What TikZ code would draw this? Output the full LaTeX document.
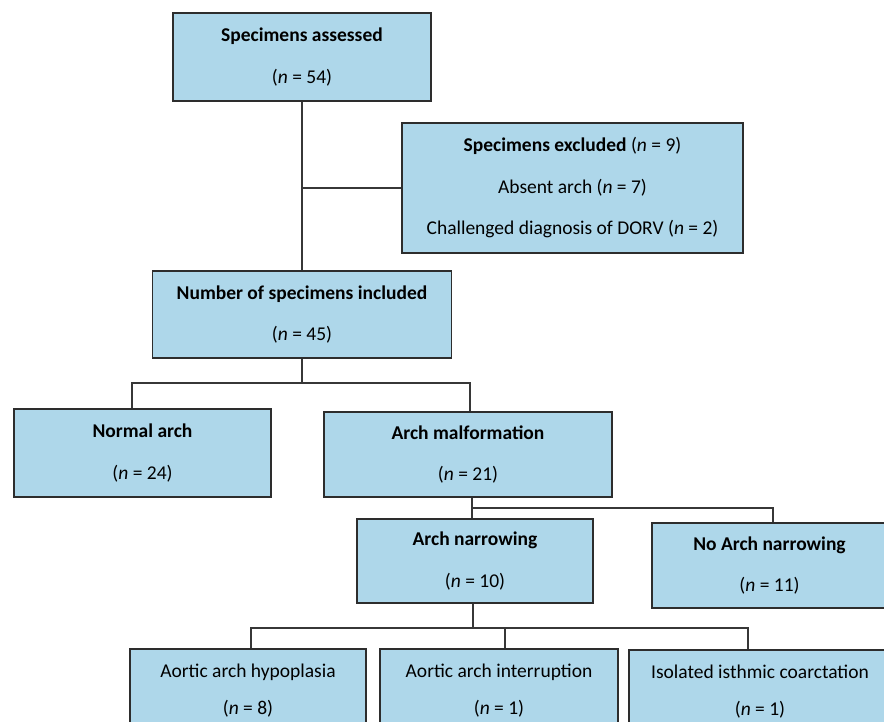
\documentclass[tikz,border=0pt]{standalone}
\usepackage{fontspec}
\setmainfont{Carlito}
\definecolor{boxfill}{RGB}{174,215,234}
\definecolor{boxline}{RGB}{45,45,45}
\definecolor{conn}{RGB}{55,55,55}
\begin{document}
\begin{tikzpicture}[x=1pt,y=-1pt,
  box/.style={draw=boxline, fill=boxfill, line width=1.4pt, inner sep=0pt, align=center,
    font=\fontsize{19.5}{41.5}\selectfont, anchor=center},
  lowbox/.style={box, font=\fontsize{19.5}{37}\selectfont},
  link/.style={draw=conn, line width=1.3pt}]
\useasboundingbox (0,0) rectangle (884,722);
\clip (0,0) rectangle (884,722);
\node[box, minimum width=258pt, minimum height=88pt] (a) at (302,57)
  {\textbf{Specimens assessed}\\(\textit{n} = 54)};
\node[box, minimum width=341pt, minimum height=130pt] (b) at (572.5,188)
  {\textbf{Specimens excluded} (\textit{n} = 9)\\Absent arch (\textit{n} = 7)\\Challenged diagnosis of DORV (\textit{n} = 2)};
\node[box, minimum width=299pt, minimum height=87pt] (c) at (302,314.5)
  {\textbf{Number of specimens included}\\(\textit{n} = 45)};
\node[box, minimum width=257pt, minimum height=88pt] (d) at (142.5,453)
  {\textbf{Normal arch}\\(\textit{n} = 24)};
\node[box, minimum width=288pt, minimum height=85pt] (e) at (468,454.5)
  {\textbf{Arch malformation}\\(\textit{n} = 21)};
\node[box, minimum width=236pt, minimum height=84pt] (f) at (475,561)
  {\textbf{Arch narrowing}\\(\textit{n} = 10)};
\node[box, minimum width=235pt, minimum height=85pt] (g) at (769.5,565.5)
  {\textbf{No Arch narrowing}\\(\textit{n} = 11)};
\node[lowbox, minimum width=236pt, minimum height=84pt] (h) at (248,691)
  {Aortic arch hypoplasia\\(\textit{n} = 8)};
\node[lowbox, minimum width=238pt, minimum height=84pt] (i) at (499,691)
  {Aortic arch interruption\\(\textit{n} = 1)};
\node[lowbox, minimum width=262pt, minimum height=84pt] (j) at (760,692)
  {Isolated isthmic coarctation\\(\textit{n} = 1)};
\coordinate (y383) at (0,383);
\coordinate (y508) at (0,508);
\coordinate (y628) at (0,628);
% top
\draw[link] (a.south) -- (a.south |- c.north);
\draw[link] (a.south |- b.west) -- (b.west);
% included -> normal / malformation
\draw[link] (c.south) -- (c.south |- y383);
\draw[link] ([xshift=-10.5pt]d.north) |- ([xshift=2pt]e.north |- y383) -- ([xshift=2pt]e.north);
% malformation -> narrowing / no narrowing
\draw[link] ([xshift=4pt]e.south) -- ([xshift=4pt]e.south |- f.north);
\draw[link] ([xshift=4pt]e.south |- y508) -| ([xshift=3.5pt]g.north);
% narrowing -> three
\draw[link] ([xshift=-2pt]f.south) -- ([xshift=-2pt]f.south |- y628);
\draw[link] ([xshift=3pt]h.north) |- ([xshift=-12pt]j.north |- y628) -- ([xshift=-12pt]j.north);
\draw[link] ([xshift=6pt]i.north) -- ([xshift=6pt]i.north |- y628);
\end{tikzpicture}
\end{document}
